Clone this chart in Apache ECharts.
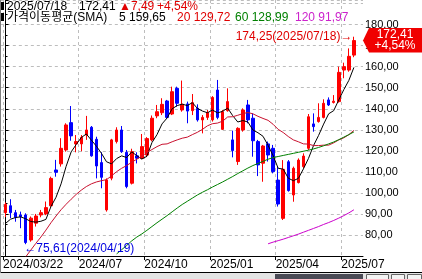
<!DOCTYPE html>
<html><head><meta charset="utf-8">
<script src="https://cdn.jsdelivr.net/npm/echarts@6/dist/echarts.min.js"></script>
<style>html,body{margin:0;padding:0;background:#fff}#c{width:422px;height:279px}</style>
</head><body><div id="c"></div>
<script>
const dates = ['2024/03/22','2024/03/29','2024/04/05','2024/04/12','2024/04/19','2024/04/26','2024/05/03','2024/05/10','2024/05/17','2024/05/24',
'2024/05/31','2024/06/07','2024/06/14','2024/06/21','2024/06/28','2024/07/05','2024/07/12','2024/07/19','2024/07/26','2024/08/02',
'2024/08/09','2024/08/16','2024/08/23','2024/08/30','2024/09/06','2024/09/13','2024/09/20','2024/09/27','2024/10/04','2024/10/11',
'2024/10/18','2024/10/25','2024/11/01','2024/11/08','2024/11/15','2024/11/22','2024/11/29','2024/12/06','2024/12/13','2024/12/20',
'2024/12/27','2025/01/03','2025/01/10','2025/01/17','2025/01/24','2025/01/31','2025/02/07','2025/02/14','2025/02/21','2025/02/28',
'2025/03/07','2025/03/14','2025/03/21','2025/03/28','2025/04/04','2025/04/11','2025/04/18','2025/04/25','2025/05/02','2025/05/09',
'2025/05/16','2025/05/23','2025/05/30','2025/06/06','2025/06/13','2025/06/20','2025/06/27','2025/07/04','2025/07/11','2025/07/18'];
const opens = [90.6,93.9,90.6,89.5,89.5,77.6,85.6,89.5,90.0,93.9,
110.9,113.8,120.4,133.4,123.3,123.3,127.5,131.2,125.5,114.4,
91.9,107.0,124.4,129.9,119.3,104.6,117.6,116.5,118.0,125.2,
136.6,138.1,143.7,137.5,149.7,139.4,142.3,139.1,140.2,134.7,
135.9,134.7,148.9,130.2,139.1,125.2,114.9,129.9,141.8,135.5,
124.4,114.1,123.3,121.2,106.1,87.9,114.8,99.0,104.9,112.5,
121.2,132.8,133.9,135.9,144.2,143.0,143.4,158.4,158.4,165.5];
const closes = [94.5,90.6,88.4,88.7,76.4,88.0,89.0,90.6,93.0,106.9,
109.8,121.2,132.3,127.1,124.4,126.4,129.9,117.6,112.8,107.4,
106.1,125.2,129.9,119.6,103.0,119.6,116.5,122.0,125.8,135.5,
138.6,142.1,135.9,148.1,142.6,142.1,138.9,142.9,134.7,135.9,
138.2,145.4,135.9,138.6,143.4,120.1,130.7,139.4,134.7,124.8,
113.3,122.3,118.0,110.1,94.7,111.2,101.1,111.7,115.6,117.5,
136.2,131.5,135.9,142.6,141.8,143.6,157.3,160.0,164.92,172.41];
const lows = [88.5,88.0,86.3,83.2,75.61,76.8,84.0,88.4,89.4,93.4,
107.7,112.5,119.6,124.8,119.3,119.8,125.2,117.2,106.9,102.2,
91.1,106.0,123.5,119.0,102.2,104.0,114.0,116.0,117.0,124.5,
135.5,137.0,135.3,137.0,141.0,138.6,133.1,137.0,133.9,128.3,
134.7,133.9,135.0,129.9,138.6,116.9,113.3,129.1,133.1,117.2,
108.0,105.3,114.9,109.3,93.5,87.1,100.6,95.8,104.5,111.7,
120.4,129.1,133.4,135.4,141.3,142.5,142.9,154.5,157.6,164.5];
const highs = [95.5,97.0,91.9,91.1,90.3,88.8,90.0,91.9,95.9,107.7,
115.7,126.0,133.1,141.3,127.5,127.5,136.6,131.8,126.7,119.3,
106.9,125.7,131.2,131.8,120.4,121.0,119.3,128.0,126.5,136.8,
141.8,145.0,144.2,150.5,150.5,153.4,143.4,147.0,142.1,137.0,
139.4,146.0,153.7,139.4,149.7,129.6,131.2,140.2,144.2,137.8,
125.2,122.8,124.4,122.8,112.5,115.6,115.6,112.5,116.4,118.8,
137.5,137.8,142.6,144.5,145.4,146.5,160.0,161.9,168.7,174.25];
const ma5Start = 0;
const ma5 = [85.5,87.5,88.3,88.6,87.7,86.4,86.1,86.5,87.4,93.5,
97.9,104.3,112.6,119.5,123.0,126.3,128.0,125.1,122.2,118.8,
114.8,113.8,116.3,117.6,116.8,119.5,117.7,116.1,117.4,123.9,
127.7,132.8,135.6,140.0,141.5,142.2,141.5,142.9,140.2,138.9,
138.1,139.4,138.0,138.8,140.3,136.7,133.7,134.4,133.7,129.9,
128.6,126.9,122.6,117.7,111.7,111.3,107.0,105.8,106.9,111.4,
116.4,122.5,127.3,132.7,137.6,139.1,144.2,149.1,153.5,159.65];
const ma20Start = 4;
const ma20 = [69.6,72.8,76.0,79.0,82.3,85.8,89.0,92.0,94.6,97.0,
99.3,101.3,103.0,104.3,105.2,105.8,106.3,108.1,110.1,111.7,
113.0,114.6,116.0,117.5,119.2,120.6,122.0,123.1,123.3,124.3,
125.2,126.0,126.5,127.7,128.8,130.2,131.9,132.9,133.2,134.1,
136.1,136.2,136.9,137.7,138.2,137.6,136.4,135.4,134.5,132.6,
130.2,128.7,126.8,125.2,124.3,123.3,123.2,122.5,122.5,122.7,
122.7,123.8,125.2,126.2,127.7,129.72];
const ma60Start = 22;
const ma60 = [71.0,73.0,75.0,77.2,79.0,80.5,82.2,84.0,85.8,87.5,
89.2,91.0,92.8,94.5,96.0,97.5,99.0,100.3,101.5,102.8,
104.0,105.2,106.5,107.8,109.2,110.5,111.8,113.0,114.0,115.0,
116.0,116.8,117.3,117.8,118.3,118.8,119.3,119.8,120.3,120.9,
121.6,122.4,123.3,124.2,125.3,126.5,127.7,128.99];
const ma120Start = 52;
const ma120 = [75.8,76.6,77.3,78.0,78.8,79.6,80.4,81.3,82.2,83.1,
84.0,85.0,85.9,86.9,88.0,89.2,90.5,91.97];
const xTickLabels = ['2024/03/22','2024/07','2024/10','2025/01','2025/04','2025/07'];
const maNames = ['5','20','60','120'];
const maColors = ['#000000','#c8102e','#008000','#cc00cc'];
const headColors = ['#000000','#e00000','#008000','#cc22cc'];

const FONT = '"Liberation Sans",Arial,"Noto Sans CJK KR",sans-serif';
const fmt = v => v.toFixed(2).replace('.', ',');
const n = closes.length;
const last = closes[n - 1], prev = closes[n - 2];
const chg = last - prev, pct = chg / prev * 100;
const tickIdx = xTickLabels.map(l => dates.findIndex(d => d.startsWith(l)));
const tickVals = tickIdx.map(i => i - 0.5);
const candle = dates.map((d, i) => [i, opens[i], closes[i], lows[i], highs[i]]);
const toPts = (arr, s) => arr.map((v, k) => [s + k, v]);
const maSeries = [[ma5, ma5Start], [ma20, ma20Start], [ma60, ma60Start], [ma120, ma120Start]];
let hiIdx = 0, loIdx = 0;
highs.forEach((h, i) => { if (h > highs[hiIdx]) hiIdx = i; });
lows.forEach((l, i) => { if (l < lows[loIdx]) loIdx = i; });

const chart = echarts.init(document.getElementById('c'), null, {renderer: 'canvas'});
const dash = {color: '#bdbdbd', type: [3, 3], width: 1};
const option = {
  animation: false,
  backgroundColor: '#fff',
  grid: {left: 0, right: 59, top: 0, bottom: 23, containLabel: false},
  xAxis: {
    type: 'value', min: -0.93, max: 70.8,
    axisLine: {show: true, onZero: false, lineStyle: {color: '#000'}},
    axisTick: {show: true, customValues: tickVals, length: 4, lineStyle: {color: '#000'}},
    axisLabel: {customValues: tickVals, align: 'left', margin: 3, color: '#000', fontSize: 12, fontFamily: FONT,
      formatter: v => { const k = tickVals.findIndex(t => Math.abs(t - v) < 1e-6); return k >= 0 ? xTickLabels[k] : ''; }},
    splitLine: {show: true, lineStyle: dash}
  },
  yAxis: {
    type: 'value', position: 'right', min: 70, max: 191.7, interval: 10, scale: true,
    axisLine: {show: true, lineStyle: {color: '#000'}},
    axisTick: {show: true, length: 3, lineStyle: {color: '#000'}},
    minorTick: {show: true, splitNumber: 2, length: 2, lineStyle: {color: '#000'}},
    axisLabel: {margin: 2, color: '#000', fontSize: 11, fontFamily: FONT,
      formatter: v => (v >= 80 && v <= 180) ? fmt(v) : ''},
    splitLine: {show: true, lineStyle: dash}
  },
  series: [
    {
      type: 'candlestick', data: candle, barWidth: 3,
      itemStyle: {color: '#ff0000', color0: '#0000ff', borderColor: '#ff0000', borderColor0: '#0000ff', borderWidth: 1},
      markPoint: {
        symbol: 'circle', symbolSize: 1, itemStyle: {color: 'rgba(0,0,0,0)'},
        data: [
          {coord: [hiIdx, highs[hiIdx]], label: {show: true, position: 'left', distance: 1, color: '#e00000', fontSize: 12, fontFamily: FONT,
            formatter: fmt(highs[hiIdx]) + '(' + dates[hiIdx] + ')→'}},
          {coord: [loIdx, lows[loIdx]], label: {show: true, position: 'right', distance: 0, offset: [-2, 4], color: '#0000e0', fontSize: 12, fontFamily: FONT,
            formatter: '←' + fmt(lows[loIdx]) + '(' + dates[loIdx] + ')'}}
        ]
      }
    }
  ].concat(maSeries.map(([arr, s], k) => ({
    type: 'line', data: toPts(arr, s), showSymbol: false, symbol: 'none', z: 3,
    lineStyle: {color: maColors[k], width: 1}, clip: true
  })))
};
chart.setOption(option);

// header + price tag
const yPx = chart.convertToPixel({yAxisIndex: 0}, last);
const T = (text, x, y, fill) => ({type: 'text', x: x, y: y, z: 100, style: {text: text, fill: fill, font: '12px ' + FONT, verticalAlign: 'middle'}});
const maLast = maSeries.map(([arr]) => arr[arr.length - 1]);
const g = [
  {type: 'rect', shape: {x: 1, y: 2, width: 3, height: 8}, style: {fill: '#000'}, z: 100},
  {type: 'rect', shape: {x: 1, y: 13, width: 3, height: 8}, style: {fill: '#000'}, z: 100},
  T(dates[n - 1], 7, 6.5, '#000'),
  T(fmt(last), 79, 6.5, '#000'),
  T('▲' + fmt(chg), 119, 6.5, '#e00000'),
  T('+' + fmt(pct) + '%', 157, 6.5, '#e00000'),
  T('가격이동평균(SMA)', 7, 17.5, '#000'),
  T(maNames[0] + ' ' + fmt(maLast[0]), 119, 17.5, headColors[0]),
  T(maNames[1] + ' ' + fmt(maLast[1]), 177, 17.5, headColors[1]),
  T(maNames[2] + ' ' + fmt(maLast[2]), 235, 17.5, headColors[2]),
  T(maNames[3] + ' ' + fmt(maLast[3]), 295, 17.5, headColors[3]),
  {type: 'polygon', z: 100, shape: {points: [[363, yPx], [369, yPx - 12.5], [422, yPx - 12.5], [422, yPx + 12], [369, yPx + 12]]}, style: {fill: '#f00000'}},
  {type: 'text', z: 101, x: 395, y: yPx - 6, style: {text: fmt(last), fill: '#fff', font: '12px ' + FONT, align: 'center', verticalAlign: 'middle'}},
  {type: 'text', z: 101, x: 395, y: yPx + 5, style: {text: '+' + fmt(pct) + '%', fill: '#fff', font: '12px ' + FONT, align: 'center', verticalAlign: 'middle'}},
  {type: 'line', z: 100, shape: {x1: 0, y1: 272.5, x2: 422, y2: 272.5}, style: {stroke: '#000', lineWidth: 1}},
  {type: 'line', z: 100, shape: {x1: 0.5, y1: 0, x2: 0.5, y2: 273}, style: {stroke: '#808080', lineWidth: 1}},
  {type: 'rect', z: 100, shape: {x: 0, y: 273, width: 422, height: 6}, style: {fill: '#e4e4e4'}},
  {type: 'rect', z: 100, shape: {x: 275, y: 274, width: 88, height: 5}, style: {fill: '#4a4a55'}},
  {type: 'rect', z: 100, shape: {x: 366.5, y: 274.5, width: 22, height: 5}, style: {fill: '#f4f4f4', stroke: '#666'}},
  {type: 'rect', z: 100, shape: {x: 391.5, y: 274.5, width: 13, height: 5}, style: {fill: '#f4f4f4', stroke: '#666'}},
  {type: 'rect', z: 100, shape: {x: 407.5, y: 274.5, width: 14, height: 5}, style: {fill: '#f4f4f4', stroke: '#666'}}
];
chart.setOption({graphic: g});
</script></body></html>
